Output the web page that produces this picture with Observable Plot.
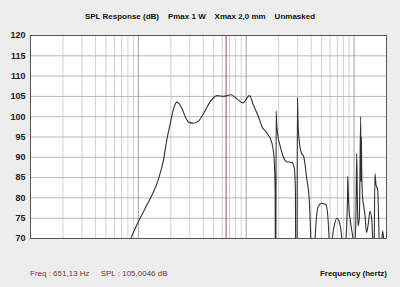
<!DOCTYPE html>
<html><head><meta charset="utf-8">
<script src="https://cdn.jsdelivr.net/npm/d3@7"></script>
<script src="https://cdn.jsdelivr.net/npm/@observablehq/plot@0.6"></script>
<style>
body{margin:0;background:#ededed;width:400px;height:287px;overflow:hidden;position:relative;font-family:"Liberation Sans",Arial,sans-serif;}
#title{position:absolute;left:0;width:400px;top:12px;text-align:center;font-size:8px;font-weight:bold;color:#111;white-space:pre;}
#chart{position:absolute;left:0;top:30px;}
#readout{position:absolute;left:30px;top:269px;font-size:8px;color:#8a3030;white-space:pre;}
#xlabel{position:absolute;right:13px;top:269px;font-size:8px;font-weight:bold;color:#111;}
</style></head><body>
<div id="title">SPL Response (dB)    Pmax 1 W    Xmax 2,0 mm    Unmasked</div>
<div id="chart"></div>
<div id="readout">Freq : 651,13 Hz     SPL : 105,0046 dB</div>
<div id="xlabel">Frequency (hertz)</div>
<script>
// Frequency (Hz) and SPL (dB); values below 70 dB are clipped away
const freq = [85, 100.7, 116, 134, 154, 171.5, 184, 198, 212, 228, 254, 272, 295, 325, 360, 403, 464, 535, 617, 726, 820, 932, 1073, 1169, 1300, 1397, 1555, 1729, 1816, 1855, 1866, 1884, 1896, 1920, 1950, 2065, 2214, 2382, 2649, 2800, 2860, 2884, 2960, 2985, 3030, 3117, 3280, 3394, 3648, 3855, 3972, 4100, 4250, 4355, 4670, 5025, 5505, 5870, 6000, 6200, 6300, 6600, 6900, 7250, 7700, 7900, 8254, 8700, 8750, 8850, 8990, 9300, 9700, 10100, 10400, 10590, 10750, 10890, 11200, 11530, 11600, 11700, 11780, 12000, 12190, 12650, 13050, 13600, 14060, 14590, 14900, 15300, 15640, 15990, 16560, 17100, 17500, 18000, 18440, 18900, 19500, 20000];
const spl  = [70, 74.3, 77.5, 80.7, 84.7, 89.5, 94.4, 98.4, 102.0, 103.6, 102.0, 100.0, 98.6, 98.4, 98.9, 100.8, 103.7, 105.2, 105.0, 105.4, 104.4, 103.4, 105.2, 102.8, 100.0, 97.6, 96.0, 93.6, 89.6, 82, 60, 60, 101.4, 98, 96, 92.8, 90, 88.9, 88.75, 87.1, 82, 60, 60, 104.8, 98, 93.6, 90.8, 90.4, 84.7, 79.1, 70, 60, 60, 70, 78, 78.7, 78.3, 70, 60, 60, 70, 73.5, 75, 74.3, 70, 60, 66, 80, 85.3, 81.1, 77.1, 73.9, 70.7, 68, 75, 90.9, 78.7, 73.1, 75, 100, 84, 95, 87, 80, 78.7, 75.5, 71.5, 73.9, 76.7, 74.7, 70, 65, 86, 83.2, 82, 70, 66, 68, 71.9, 69, 60, 60];
const markerFreq = 651.13;
const yTicks = [70, 75, 80, 85, 90, 95, 100, 105, 110, 115, 120];
const decadeTicks = [10, 100, 1000, 10000];
const decadeLabels = ["10", "100", "1000", "10000"];
const digitTicks = [20, 40, 60, 80, 200, 400, 600, 800, 2000, 4000, 6000, 8000, 20000];
const digitLabels = ["2", "4", "6", "8", "2", "4", "6", "8", "2", "4", "6", "8", "2"];
const minorGrid = [20, 30, 40, 50, 60, 70, 80, 90, 200, 300, 400, 500, 600, 700, 800, 900, 2000, 3000, 4000, 5000, 6000, 7000, 8000, 9000];

const curve = freq.map((f, i) => ({f, db: spl[i]}));

const chart = Plot.plot({
  width: 400,
  height: 228,
  marginTop: 5,
  marginLeft: 30,
  marginRight: 14,
  marginBottom: 20,
  style: {background: "transparent", fontFamily: "'Liberation Sans', Arial, sans-serif", fontSize: "9px", fontWeight: "bold", color: "#222"},
  x: {type: "log", domain: [10, 20000]},
  y: {domain: [70, 120]},
  marks: [
    Plot.frame({fill: "white"}),
    Plot.ruleX(minorGrid, {stroke: "#d2d2d2"}),
    Plot.ruleY(yTicks, {stroke: "#b8b8b8"}),
    Plot.ruleX(decadeTicks, {stroke: "#a0a0a0"}),
    Plot.ruleX([markerFreq], {stroke: "#a84848"}),
    Plot.line(curve, {x: "f", y: "db", stroke: "#303030", strokeWidth: 1.1, curve: "monotone-x", clip: true}),
    Plot.frame({stroke: "#555", strokeWidth: 1}),
    Plot.axisY(yTicks, {tickSize: 0, tickPadding: 5, label: null}),
    Plot.axisX(digitTicks, {tickSize: 0, tickPadding: 5, label: null, tickFormat: (d, i) => digitLabels[i]}),
    Plot.axisX(decadeTicks, {tickSize: 0, tickPadding: 5, label: null, textAnchor: "start", dx: -3, tickFormat: (d, i) => decadeLabels[i]})
  ]
});
document.getElementById("chart").appendChild(chart);
</script>
</body></html>
